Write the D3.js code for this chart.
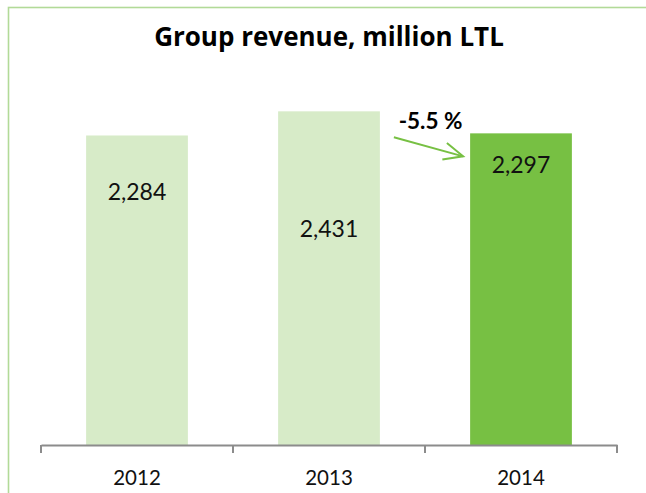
<!DOCTYPE html>
<html>
<head>
<meta charset="utf-8">
<script src="https://cdn.jsdelivr.net/npm/d3@7"></script>
<style>
  body { margin: 0; background: #fff; }
  svg { display: block; font-family: Lato, "Open Sans", sans-serif; }
</style>
</head>
<body>
<svg width="646" height="493"></svg>
<script>
// Data
const years = ["2012", "2013", "2014"];
const revenue = [2284, 2431, 2297];
const valueLabels = ["2,284", "2,431", "2,297"];
const changeLabel = "-5.5 %";

const svg = d3.select("svg");

// frame (right and bottom edges fall outside the picture)
svg.append("rect")
  .attr("x", 8.5).attr("y", 7.5)
  .attr("width", 700).attr("height", 600)
  .attr("fill", "none")
  .attr("stroke", "#b2da98")
  .attr("stroke-width", 1.6);

const x = d3.scaleBand()
  .domain(years)
  .range([41, 617])
  .paddingInner(0.47)
  .paddingOuter(0.235);

const y = d3.scaleLinear()
  .domain([400, 2500])
  .range([445, 100]);

// title
svg.append("text")
  .attr("x", (41 + 617) / 2)
  .attr("y", 46)
  .attr("text-anchor", "middle")
  .attr("font-weight", "bold")
  .attr("font-size", "26px")
  .style("font-family", "'Open Sans', Lato, sans-serif")
  .text("Group revenue, million LTL");

// bars
const rows = years.map((yr, i) => ({ year: yr, value: revenue[i], label: valueLabels[i] }));

svg.selectAll("rect.bar")
  .data(rows)
  .join("rect")
  .attr("class", "bar")
  .attr("x", d => x(d.year))
  .attr("y", d => y(d.value))
  .attr("width", x.bandwidth())
  .attr("height", d => y.range()[0] - y(d.value))
  .attr("fill", (d, i) => i === rows.length - 1 ? "#77c043" : "#d7ebc8");

// value labels (placed by hand in the original, offsets from bar top)
const labelDrop = [65, 126, 40];
svg.selectAll("text.val")
  .data(rows)
  .join("text")
  .attr("class", "val")
  .attr("x", d => x(d.year) + x.bandwidth() / 2)
  .attr("y", (d, i) => y(d.value) + labelDrop[i])
  .attr("text-anchor", "middle")
  .attr("font-size", "23px")
  .attr("fill", "#111")
  .text(d => d.label);

// x axis
const axis = svg.append("g")
  .attr("transform", `translate(0,${y.range()[0]})`)
  .call(d3.axisBottom(x).tickSize(0).tickPadding(25));
axis.select(".domain").attr("stroke", "#8c8c8c").attr("stroke-width", 2);
axis.selectAll(".tick text")
  .attr("font-size", "20.5px")
  .attr("fill", "#111")
  .style("font-family", "Lato, 'Open Sans', sans-serif");

// boundary ticks between categories
const step = x.step();
const bounds = years.map(yr => x(yr) - step * x.paddingInner() / 2);
bounds.push(x.range()[1]);
axis.selectAll("line.bound")
  .data(bounds)
  .join("line")
  .attr("class", "bound")
  .attr("x1", d => d).attr("x2", d => d)
  .attr("y1", 0).attr("y2", 8)
  .attr("stroke", "#8c8c8c")
  .attr("stroke-width", 2);

// change annotation
const x0 = x("2013") + x.bandwidth() + 14, y0 = y(revenue[1]) + 26;
const x1 = x("2014") - 7, y1 = y(revenue[2]) + 23;
const ang = Math.atan2(y1 - y0, x1 - x0);
const head = 21, spread = 0.42;

svg.append("line")
  .attr("x1", x0).attr("y1", y0)
  .attr("x2", x1).attr("y2", y1)
  .attr("stroke", "#77c043").attr("stroke-width", 2);

svg.append("path")
  .attr("d", d3.line()([
    [x1 - head * Math.cos(ang - spread), y1 - head * Math.sin(ang - spread)],
    [x1, y1],
    [x1 - head * Math.cos(ang + spread), y1 - head * Math.sin(ang + spread)]
  ]))
  .attr("fill", "none")
  .attr("stroke", "#77c043").attr("stroke-width", 2);

svg.append("text")
  .attr("x", (x0 + x1) / 2 + 2)
  .attr("y", 129)
  .attr("text-anchor", "middle")
  .attr("font-weight", "bold")
  .attr("font-size", "22.5px")
  .text(changeLabel);
</script>
</body>
</html>
